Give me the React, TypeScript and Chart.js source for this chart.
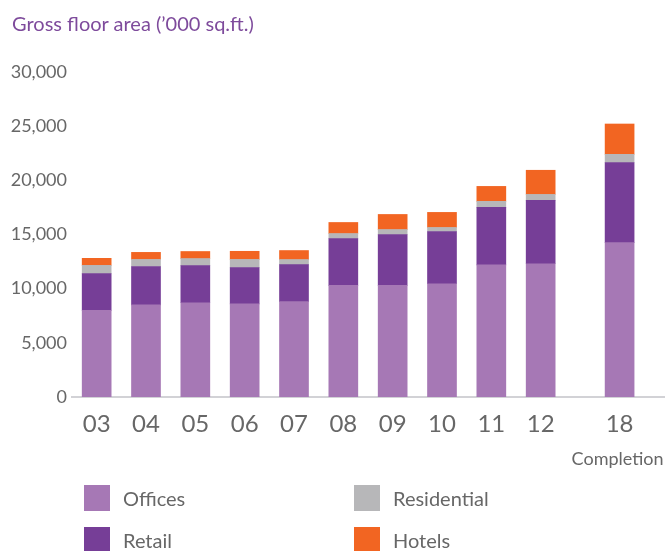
import React, { useEffect, useRef } from 'react';
import { Chart, registerables } from 'chart.js';

Chart.register(...registerables);

const titleText = 'Gross floor area (’000 sq.ft.)';
const categories = ['03', '04', '05', '06', '07', '08', '09', '10', '11', '12', '18'];
const offices = [8000, 8500, 8700, 8600, 8800, 10300, 10300, 10450, 12200, 12300, 14250];
const retail = [3400, 3550, 3430, 3350, 3420, 4330, 4700, 4830, 5300, 5850, 7400];
const residential = [750, 650, 650, 750, 470, 460, 460, 370, 560, 550, 750];
const hotels = [650, 650, 650, 750, 830, 1020, 1390, 1390, 1380, 2230, 2800];
const seriesNames = ['Offices', 'Retail', 'Residential', 'Hotels'];
const yTickValues = [0, 5000, 10000, 15000, 20000, 25000, 30000];
const completionNote = 'Completion';

const COLORS = ['#a678b5', '#763e97', '#b7b7b9', '#f26522'];
const TEXT = '#676767';
const FONT = 'Lato, "Open Sans", sans-serif';

// the final (completion) bar sits a little further from the others
const slot = (i: number) => (i === categories.length - 1 ? i + 0.6 : i);

export default function App() {
  const ref = useRef<HTMLCanvasElement | null>(null);

  useEffect(() => {
    if (!ref.current) return;
    const series = [offices, retail, residential, hotels];
    const notePlugin = {
      id: 'completionNote',
      afterDraw(chart: any) {
        const xs = chart.scales.x;
        const ctx = chart.ctx;
        ctx.save();
        ctx.fillStyle = TEXT;
        ctx.font = `18px ${FONT}`;
        ctx.textAlign = 'center';
        ctx.textBaseline = 'middle';
        ctx.fillText(completionNote, xs.getPixelForValue(slot(categories.length - 1)) - 2, 459);
        ctx.restore();
      },
    };
    const chart = new Chart(ref.current, {
      type: 'bar',
      data: {
        datasets: series.map((vals, k) => ({
          label: seriesNames[k],
          data: vals.map((v, i) => ({ x: slot(i), y: v })),
          backgroundColor: COLORS[k],
          borderWidth: 0,
          barThickness: 29,
        })),
      },
      options: {
        responsive: false,
        animation: false,
        layout: { padding: { top: 72, left: 0, right: 2, bottom: 0 } },
        plugins: {
          legend: { display: false },
          tooltip: { enabled: false },
          title: { display: false },
        },
        scales: {
          x: {
            type: 'linear',
            stacked: true,
            offset: false,
            min: -0.5,
            max: 11.5,
            afterFit: (s: any) => {
              s.height = 154;
            },
            afterBuildTicks: (s: any) => {
              s.ticks = categories.map((_, i) => ({ value: slot(i) }));
            },
            grid: { display: true, color: 'transparent', drawTicks: false },
            border: { display: true, color: '#d2d2d6', width: 2 },
            ticks: {
              autoSkip: false,
              maxRotation: 0,
              padding: 13,
              color: TEXT,
              font: { family: FONT, size: 24 },
              callback: (_v: any, idx: number) => categories[idx],
            },
          },
          y: {
            stacked: true,
            min: 0,
            max: 30000,
            afterFit: (s: any) => {
              s.width = 72;
            },
            afterBuildTicks: (s: any) => {
              s.ticks = yTickValues.map((v) => ({ value: v }));
            },
            grid: { display: false, drawTicks: false },
            border: { display: false },
            ticks: {
              padding: 5,
              color: TEXT,
              font: { family: FONT, size: 18 },
              callback: (v: any) => Number(v).toLocaleString('en-US'),
            },
          },
        },
      } as any,
      plugins: [notePlugin],
    });
    return () => chart.destroy();
  }, []);

  const legendItem = (k: number, left: number, top: number) => (
    <div key={k} style={{ position: 'absolute', left, top, height: 26, display: 'flex', alignItems: 'center' }}>
      <div style={{ width: 26, height: 26, background: COLORS[k] }} />
      <span style={{ marginLeft: 13, fontFamily: FONT, fontSize: 20, color: TEXT, lineHeight: '26px' }}>
        {seriesNames[k]}
      </span>
    </div>
  );

  return (
    <div style={{ position: 'fixed', left: 0, top: 0, width: 666, height: 551, background: '#fff', overflow: 'hidden' }}>
      <canvas ref={ref} width={666} height={551} style={{ position: 'absolute', left: 0, top: 0, width: 666, height: 551 }} />
      <div
        style={{
          position: 'absolute',
          left: 12,
          top: 11,
          fontFamily: FONT,
          fontSize: 20,
          lineHeight: '24px',
          color: '#7e4b9c',
          whiteSpace: 'nowrap',
        }}
      >
        {titleText}
      </div>
      {legendItem(0, 84, 485)}
      {legendItem(1, 84, 527)}
      {legendItem(2, 354, 485)}
      {legendItem(3, 354, 527)}
    </div>
  );
}
